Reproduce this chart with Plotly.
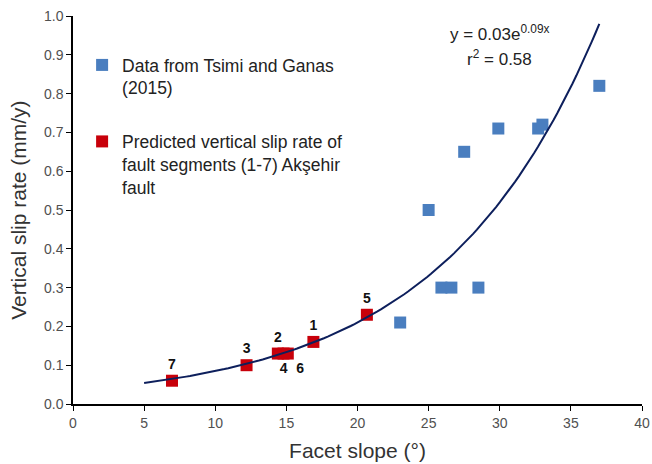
import numpy as np
import plotly.graph_objects as go

# Data from Tsimi and Ganas (2015)
ts_slope = [23.0, 25.0, 25.9, 26.6, 27.5, 28.5, 29.9, 32.7, 33.0, 37.0]
ts_rate = [0.21, 0.50, 0.30, 0.30, 0.65, 0.30, 0.71, 0.71, 0.72, 0.82]

# Predicted vertical slip rate of fault segments (1-7)
seg_labels = ["1", "2", "3", "4", "5", "6", "7"]
seg_slope = [16.9, 14.4, 12.2, 14.8, 20.66, 15.1, 6.96]
seg_rate = [0.16, 0.13, 0.10, 0.13, 0.23, 0.13, 0.06]
seg_label_pos = ["top center", "top center", "top center", "bottom center",
                 "top center", "bottom right", "top center"]

# exponential trend line parameters (as drawn)
fit_a, fit_b = 0.0343, 0.0906
fit_x = np.linspace(5, 37, 120)
fit_y = fit_a * np.exp(fit_b * fit_x)

x_ticks = [0, 5, 10, 15, 20, 25, 30, 35, 40]
y_ticks = [0.0, 0.1, 0.2, 0.3, 0.4, 0.5, 0.6, 0.7, 0.8, 0.9, 1.0]

FONT = "Liberation Sans, Arial, sans-serif"

fig = go.Figure()
fig.add_trace(go.Scatter(
    x=ts_slope, y=ts_rate, mode="markers",
    marker=dict(symbol="square", size=12, color="#4A7EBF"),
    name="Data from Tsimi and Ganas<br>(2015)", legendgroup="a",
))
fig.add_trace(go.Scatter(
    x=seg_slope, y=seg_rate, mode="markers+text",
    marker=dict(symbol="square", size=12, color="#C8000A"),
    text=seg_labels, textposition=seg_label_pos,
    textfont=dict(family=FONT, size=14, color="#111111", weight="bold"),
    name="Predicted vertical slip rate of<br>fault segments (1-7) Akşehir<br>fault",
    legendgroup="b",
))
fig.add_trace(go.Scatter(
    x=fit_x, y=fit_y, mode="lines",
    line=dict(color="#0D1F5C", width=2), showlegend=False,
))

fig.add_annotation(xref="x", yref="y", x=30.0, y=0.955,
                   text="y = 0.03e<sup>0.09x</sup>", showarrow=False,
                   font=dict(family=FONT, size=17, color="#222222"))
fig.add_annotation(xref="x", yref="y", x=30.0, y=0.893,
                   text="r<sup>2</sup> = 0.58", showarrow=False,
                   font=dict(family=FONT, size=17, color="#222222"))
# y-axis title
fig.add_annotation(xref="paper", yref="paper", x=-0.097, y=0.5,
                   xanchor="center", yanchor="middle", textangle=-90,
                   text="Vertical slip rate (mm/y)", showarrow=False,
                   font=dict(family=FONT, size=21, color="#333333"))

fig.update_layout(
    width=652, height=464,
    margin=dict(l=73, r=10, t=16, b=60),
    paper_bgcolor="white", plot_bgcolor="white",
    font=dict(family=FONT, color="#333333"),
    legend=dict(x=0.016, y=0.92, xanchor="left", yanchor="top",
                bgcolor="rgba(0,0,0,0)", font=dict(family=FONT, size=17.5, color="#222222"),
                tracegroupgap=28, traceorder="grouped", valign="top",
                itemwidth=30),
    xaxis=dict(range=[0, 40], tickvals=x_ticks, showgrid=False, zeroline=False,
               automargin=False, ticklabeloverflow="allow",
               showline=True, linecolor="black", linewidth=1.5,
               ticks="outside", ticklen=5, tickcolor="black",
               tickfont=dict(family=FONT, size=14, color="#505050"),
               title=dict(text="Facet slope (°)", font=dict(family=FONT, size=21, color="#333333"), standoff=14)),
    yaxis=dict(range=[0, 1.0], tickvals=y_ticks, tickformat=".1f", showgrid=False, zeroline=False,
               automargin=False, ticklabeloverflow="allow",
               showline=True, linecolor="black", linewidth=1.5,
               ticks="outside", ticklen=5, tickcolor="black",
               tickfont=dict(family=FONT, size=14, color="#505050")),
)

fig.write_html(
    "out.html",
    config={"displayModeBar": False},
    post_script="document.body.style.margin='0';document.body.style.overflow='hidden';",
)
